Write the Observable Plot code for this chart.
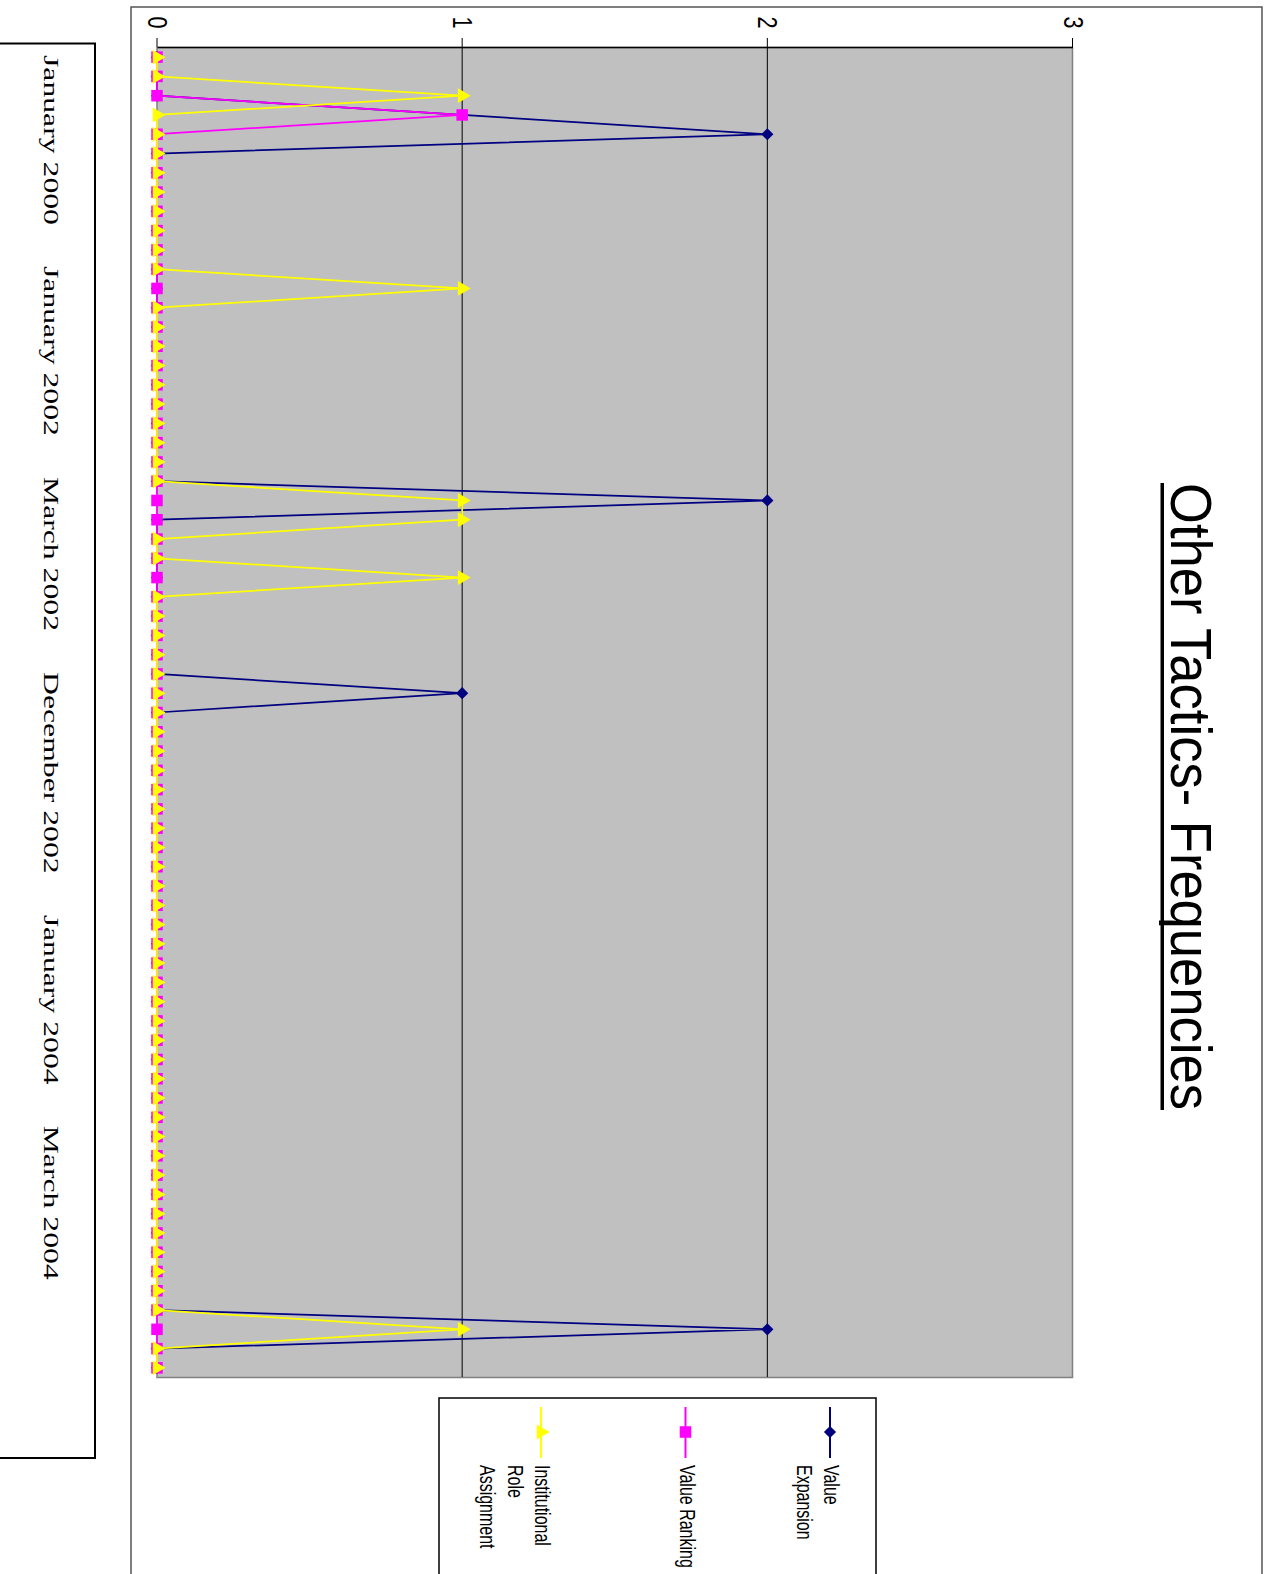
<!DOCTYPE html>
<html>
<head>
<meta charset="utf-8">
<script src="https://cdn.jsdelivr.net/npm/d3@7"></script>
<script src="https://cdn.jsdelivr.net/npm/@observablehq/plot@0.6"></script>
<style>
  html, body { margin: 0; padding: 0; background: #fff; overflow: hidden; width: 1272px; height: 1574px; }
  /* The figure is laid out landscape and turned a quarter turn clockwise onto the portrait page. */
  #figure { position: absolute; left: 0; top: 0; width: 1574px; height: 1272px;
            transform-origin: 0 0; transform: translate(1272px, 0) rotate(90deg); }
  #figure > svg { position: absolute; left: 0; top: 0; }
</style>
</head>
<body>
<div id="figure"></div>
<script>
// ---- data -------------------------------------------------------------
const seriesNames = ["Value Expansion", "Value Ranking", "Institutional Role Assignment"];
const legendLines = [["Value", "Expansion"], ["Value Ranking"], ["Institutional", "Role", "Assignment"]];

// one value per reporting period (69 periods)
const valueExpansion = [
  0,0,0,1,2,0,0,0,0,0,
  0,0,0,0,0,0,0,0,0,0,
  0,0,0,2,0,0,0,0,0,0,
  0,0,0,1,0,0,0,0,0,0,
  0,0,0,0,0,0,0,0,0,0,
  0,0,0,0,0,0,0,0,0,0,
  0,0,0,0,0,0,2,0,0
];
const valueRanking = [
  0,0,0,1,0,0,0,0,0,0,
  0,0,0,0,0,0,0,0,0,0,
  0,0,0,0,0,0,0,0,0,0,
  0,0,0,0,0,0,0,0,0,0,
  0,0,0,0,0,0,0,0,0,0,
  0,0,0,0,0,0,0,0,0,0,
  0,0,0,0,0,0,0,0,0
];
const institutionalRoleAssignment = [
  0,0,1,0,0,0,0,0,0,0,
  0,0,1,0,0,0,0,0,0,0,
  0,0,0,1,1,0,0,1,0,0,
  0,0,0,0,0,0,0,0,0,0,
  0,0,0,0,0,0,0,0,0,0,
  0,0,0,0,0,0,0,0,0,0,
  0,0,0,0,0,0,1,0,0
];
const categoryLabels = ["January 2000", "January 2002", "March 2002", "December 2002", "January 2004", "March 2004"];
const valueTicks = [0, 1, 2, 3];
const gridValues = [1, 2];
const titleText = "Other Tactics- Frequencies";

// ---- styles -----------------------------------------------------------
const sans = "'Liberation Sans', Arial, Helvetica, sans-serif";
const serif = "'Liberation Serif', 'Times New Roman', Times, serif";
const seriesStyles = [
  {color: "#000080", symbol: "diamond2", r: 5.5},
  {color: "#FF00FF", symbol: "square", r: 6.5},
  {color: "#FFFF00", symbol: "triangle", r: 5.5}
];
const seriesValues = [valueExpansion, valueRanking, institutionalRoleAssignment];

// squeeze or stretch an svg text element horizontally
function scaleTextWidth(node, factor) {
  const w = node.getComputedTextLength();
  node.setAttribute("textLength", w * factor);
  node.setAttribute("lengthAdjust", "spacingAndGlyphs");
  return w * factor;
}

// ---- chart ------------------------------------------------------------
const nPeriods = valueExpansion.length;
const xDomain = [-0.5, nPeriods - 0.5];

const seriesMarks = seriesValues.flatMap((values, s) => {
  const rows = values.map((v, i) => ({period: i, value: v, series: seriesNames[s]}));
  const st = seriesStyles[s];
  return [
    Plot.line(rows, {x: "period", y: "value", stroke: st.color, strokeWidth: 1.75}),
    Plot.dot(rows, {x: "period", y: "value", symbol: st.symbol, r: st.r, fill: st.color, stroke: "none"})
  ];
});

const chart = Plot.plot({
  width: 1574,
  height: 1272,
  marginLeft: 47,
  marginRight: 197,
  marginTop: 199,
  marginBottom: 157.5,
  x: {type: "linear", domain: xDomain, axis: null},
  y: {type: "linear", domain: [0, 3], axis: null},
  style: {fontFamily: sans, fontSize: "28px", color: "#000", background: "transparent"},
  marks: [
    Plot.frame({fill: "#C0C0C0", stroke: "#808080", strokeWidth: 1.5}),
    Plot.ruleY(gridValues, {stroke: "#000", strokeWidth: 1}),
    Plot.ruleX([xDomain[0]], {stroke: "#000", strokeWidth: 1.5}),
    Plot.axisY(valueTicks, {tickSize: 9, tickPadding: 10, label: null, fontSize: 28, tickFormat: d3.format("d")}),
    ...seriesMarks
  ]
});

const figure = document.getElementById("figure");
figure.appendChild(chart);
chart.querySelectorAll("text").forEach(t => scaleTextWidth(t, 0.77));

// ---- title, category box, legend -------------------------------------
const overlay = d3.select(figure).append("svg")
  .attr("width", 1574).attr("height", 1272);

// chart border
overlay.append("rect")
  .attr("x", 7).attr("y", 10).attr("width", 1600).attr("height", 1131)
  .attr("fill", "none").attr("stroke", "#555").attr("stroke-width", 1.5);

// title with underline
const title = overlay.append("text")
  .attr("x", 796.5).attr("y", 101)
  .attr("text-anchor", "middle")
  .attr("font-family", sans).attr("font-size", 57)
  .attr("fill", "#000")
  .text(titleText);
title.attr("textLength", 627).attr("lengthAdjust", "spacingAndGlyphs");
overlay.append("rect")
  .attr("x", 796.5 - 627 / 2).attr("y", 108).attr("width", 627).attr("height", 3.5)
  .attr("fill", "#000");

// period labels box
overlay.append("rect")
  .attr("x", 43.5).attr("y", 1177).attr("width", 1414.5).attr("height", 120)
  .attr("fill", "#fff").attr("stroke", "#000").attr("stroke-width", 2);
let cursor = 55;
categoryLabels.forEach(label => {
  const t = overlay.append("text")
    .attr("x", cursor).attr("y", 1228.5)
    .attr("font-family", serif).attr("font-size", 21)
    .attr("fill", "#000")
    .text(label);
  cursor += scaleTextWidth(t.node(), 1.51) + 41;
});

// legend
const symbolTypes = {
  diamond2: d3.symbolDiamond2 || {draw(ctx, size) { const r = Math.sqrt(size / 2); ctx.moveTo(0, -r); ctx.lineTo(r, 0); ctx.lineTo(0, r); ctx.lineTo(-r, 0); ctx.closePath(); }},
  square: d3.symbolSquare,
  triangle: d3.symbolTriangle
};
overlay.append("rect")
  .attr("x", 1398).attr("y", 396).attr("width", 300).attr("height", 437)
  .attr("fill", "#fff").attr("stroke", "#000").attr("stroke-width", 1.5);
seriesNames.forEach((name, s) => {
  const st = seriesStyles[s];
  const cy = 442 + s * 144.5;
  const g = overlay.append("g").attr("aria-label", name);
  g.append("line")
    .attr("x1", 1407).attr("x2", 1458).attr("y1", cy).attr("y2", cy)
    .attr("stroke", st.color).attr("stroke-width", 2);
  g.append("path")
    .attr("transform", `translate(1432,${cy})`)
    .attr("d", d3.symbol(symbolTypes[st.symbol], st.r * st.r * Math.PI)())
    .attr("fill", st.color);
  // narrow, tall lettering: a small font stretched vertically
  legendLines[s].forEach((line, k) => {
    g.append("text")
      .attr("transform", `translate(1465,${cy + 6 + k * 27.5}) scale(1,1.375)`)
      .attr("font-family", sans).attr("font-size", 16)
      .attr("fill", "#000")
      .text(line);
  });
});
</script>
</body>
</html>
